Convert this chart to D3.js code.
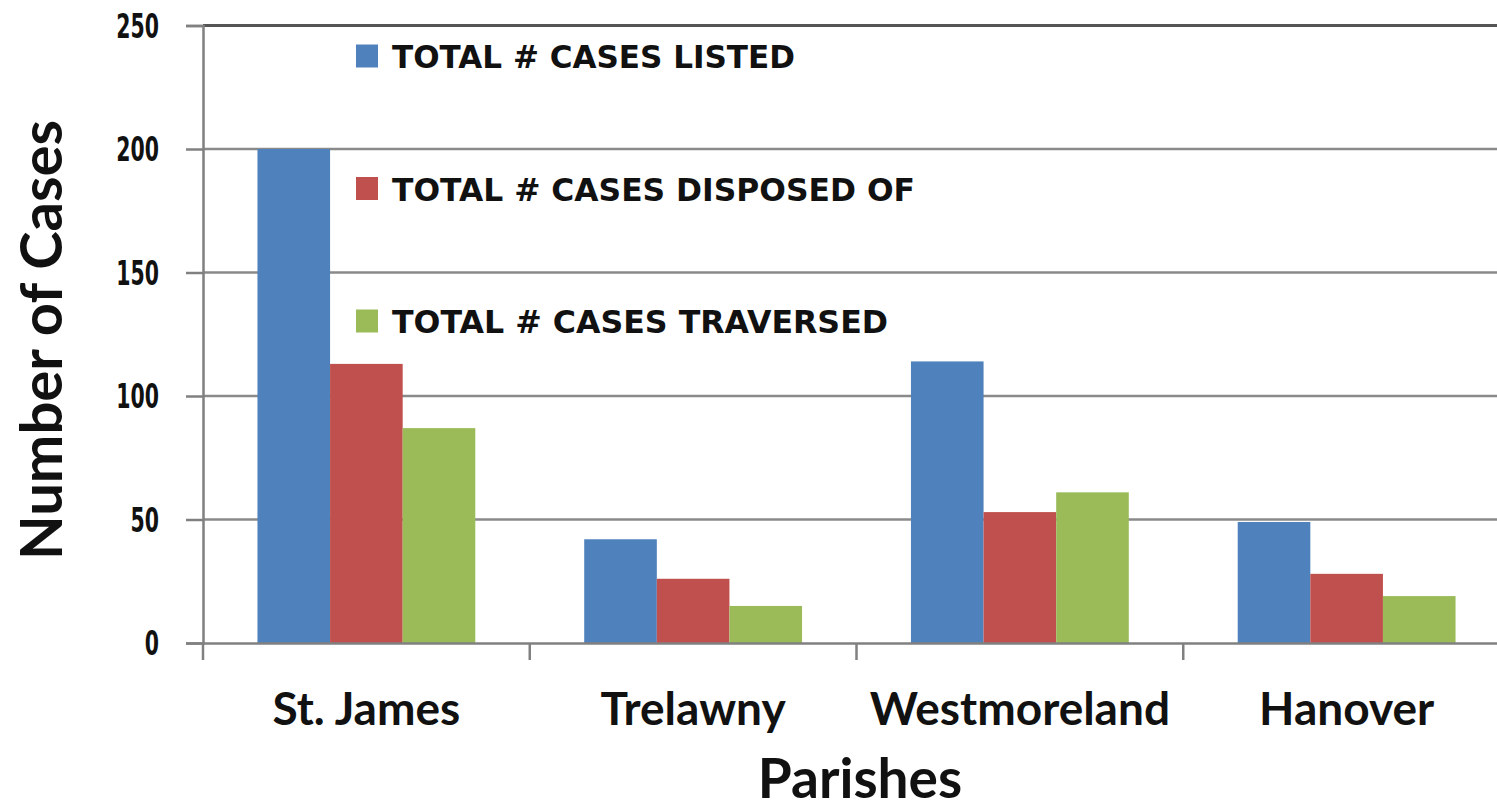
<!DOCTYPE html>
<html>
<head>
<meta charset="utf-8">
<script src="https://cdn.jsdelivr.net/npm/d3@7"></script>
<style>
  html, body { margin: 0; padding: 0; background: #fff; }
  svg { display: block; }
</style>
</head>
<body>
<svg id="chart" width="1497" height="812"></svg>
<script>
const parishes = ["St. James", "Trelawny", "Westmoreland", "Hanover"];
const seriesNames = ["TOTAL # CASES LISTED", "TOTAL # CASES DISPOSED OF", "TOTAL # CASES TRAVERSED"];
const casesListed = [200, 42, 114, 49];
const casesDisposed = [113, 26, 53, 28];
const casesTraversed = [87, 15, 61, 19];
const yTicks = [0, 50, 100, 150, 200, 250];
const xTitle = "Parishes";
const yTitle = "Number of Cases";

const colors = ["#4F81BD", "#C0504D", "#9BBB59"];
const seriesValues = [casesListed, casesDisposed, casesTraversed];

const svg = d3.select("#chart");
const plotL = 203, plotR = 1510, plotT = 25.5, plotB = 643;

const x = d3.scaleBand().domain(parishes).range([plotL, plotR]).paddingInner(1/3).paddingOuter(1/6);
const xs = d3.scaleBand().domain(d3.range(seriesNames.length)).range([0, x.bandwidth()]).padding(0);
const y = d3.scaleLinear().domain([0, 250]).range([plotB, plotT]);

// gridlines
svg.append("g").selectAll("line").data(yTicks.filter(d => d > 0)).join("line")
  .attr("x1", plotL).attr("x2", 1497)
  .attr("y1", d => y(d)).attr("y2", d => y(d))
  .attr("stroke", d => d === 250 ? "#555" : "#8a8a8a")
  .attr("stroke-width", d => d === 250 ? 3 : 2.5);

// bars
const groups = svg.append("g").selectAll("g").data(parishes).join("g")
  .attr("transform", d => `translate(${x(d)},0)`);
groups.selectAll("rect").data((p, i) => seriesValues.map((s, k) => ({k, v: s[i]}))).join("rect")
  .attr("x", d => xs(d.k)).attr("width", xs.bandwidth())
  .attr("y", d => y(d.v)).attr("height", d => y(0) - y(d.v))
  .attr("fill", d => colors[d.k]);

// y axis
const sx = 0.62;
const yAxis = svg.append("g").attr("transform", `translate(${plotL},0)`)
  .call(d3.axisLeft(y).tickValues(yTicks).tickSize(17).tickPadding(0).tickFormat(d3.format("d")));
yAxis.select(".domain").attr("stroke", "#808080").attr("stroke-width", 2.5);
yAxis.selectAll(".tick line").attr("stroke", "#808080").attr("stroke-width", 2.5);
yAxis.selectAll(".tick text")
  .attr("x", -44 / sx).attr("dy", "0.36em")
  .attr("transform", `scale(${sx},1)`)
  .attr("font-family", "DejaVu Sans").attr("font-weight", "bold").attr("font-size", 33)
  .attr("fill", "#111");

// x axis
const xAxis = svg.append("g").attr("transform", `translate(0,${plotB})`)
  .call(d3.axisBottom(x).tickSize(0).tickPadding(0));
xAxis.select(".domain").attr("stroke", "#808080").attr("stroke-width", 2.5);
xAxis.selectAll(".tick text")
  .attr("y", 82).attr("dy", 0)
  .attr("font-family", "Lato").attr("font-weight", "bold").attr("font-size", 46)
  .attr("fill", "#111");
// category boundary ticks
const bounds = parishes.map(p => x(p) - x.step() * x.paddingInner() / 2);
svg.append("g").selectAll("line").data(bounds).join("line")
  .attr("x1", d => Math.max(d, plotL)).attr("x2", d => Math.max(d, plotL))
  .attr("y1", plotB).attr("y2", plotB + 17)
  .attr("stroke", "#808080").attr("stroke-width", 2.5);

// axis titles
svg.append("text").attr("x", 860).attr("y", 798).attr("text-anchor", "middle")
  .attr("font-family", "Lato").attr("font-weight", "bold").attr("font-size", 55)
  .attr("fill", "#111").text(xTitle);
svg.append("text").attr("transform", `translate(62,340) rotate(-90)`)
  .attr("text-anchor", "middle")
  .attr("font-family", "Lato").attr("font-weight", "bold").attr("font-size", 58)
  .attr("fill", "#111").text(yTitle);

// legend
const legendLens = [403, 523, 496];
const leg = svg.append("g").selectAll("g").data(seriesNames).join("g")
  .attr("transform", (d, i) => `translate(356,${56 + i * 132.5})`);
leg.append("rect").attr("x", 0).attr("y", -11.5).attr("width", 22).attr("height", 23)
  .attr("fill", (d, i) => colors[i]);
leg.append("text").attr("x", 36).attr("y", 12)
  .attr("font-family", "DejaVu Sans").attr("font-weight", "bold").attr("font-size", 32)
  .attr("textLength", (d, i) => legendLens[i]).attr("lengthAdjust", "spacingAndGlyphs")
  .attr("fill", "#111").text(d => d);
</script>
</body>
</html>
